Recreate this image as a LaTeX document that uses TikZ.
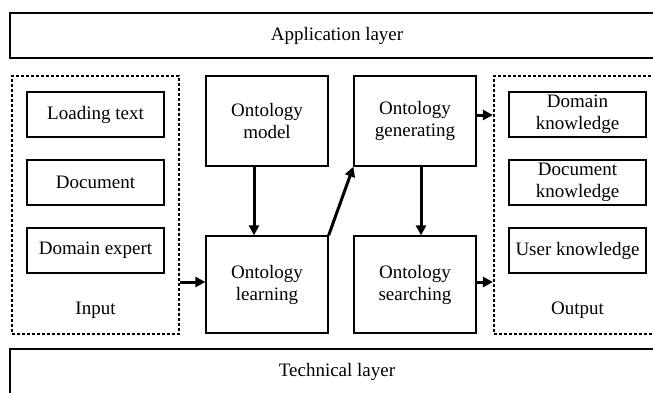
\documentclass[tikz,border=0pt]{standalone}
\usepackage{fontspec}
\setmainfont{Liberation Serif}
\usetikzlibrary{arrows.meta}
\tikzset{
  txt/.style={font=\fontsize{19}{22}\selectfont, align=center, inner sep=0pt},
  sbox/.style={txt, draw, line width=1.3pt, minimum width=#1},
  sbox/.default=137pt,
  dbox/.style={draw, line width=2.2pt, dash pattern=on 3pt off 2pt, minimum width=167pt, minimum height=258pt, inner sep=0pt},
  arr/.style={line width=3pt, -{Triangle[length=10pt,width=10pt]}},
}
\begin{document}
\begin{tikzpicture}[x=1pt,y=1pt]
\useasboundingbox (0,0) rectangle (653,-392);
\clip (0,0) rectangle (653,-392);
% layers
\node[sbox=654pt, minimum height=45pt] (app) at (337,-35.5) {Application layer};
\node[sbox=654pt, minimum height=46pt] (tech) at (337,-372) {Technical layer};
% input / output groups
\node[dbox] (input) at (95.5,-205) {};
\node[dbox] (output) at (577.5,-205) {};
\node[sbox, minimum height=45pt] (lt) at (95.5,-114.5) {Loading text};
\node[sbox, minimum height=45pt] (doc) at (95.5,-182.5) {Document};
\node[sbox, minimum height=45pt] (de) at (95.5,-250.5) {Domain expert};
\node[txt] (inl) at (95.5,-310) {Input};
\node[sbox, minimum height=45pt] (dk) at (577.5,-114.5) {Domain\\knowledge};
\node[sbox, minimum height=45pt] (dck) at (577.5,-182.5) {Document\\knowledge};
\node[sbox, minimum height=45pt] (uk) at (577.5,-250.5) {User knowledge};
\node[txt] (outl) at (577.5,-310) {Output};
% ontology boxes
\node[sbox=122pt, minimum height=90pt] (model) at (267,-121) {Ontology\\model};
\node[sbox=122pt, minimum height=97pt] (learn) at (267,-284.5) {Ontology\\learning};
\node[sbox=122pt, minimum height=90pt] (gen) at (415,-121) {Ontology\\generating};
\node[sbox=122pt, minimum height=97pt] (search) at (415,-284.5) {Ontology\\searching};
% connectors
\path (learn.west) ++(0,2.5) coordinate (a1);
\draw[arr] (input.east |- a1) -- (a1);
\draw[arr] ([xshift=-13pt]model.south) -- ([xshift=-13pt]learn.north);
\draw[arr] (learn.north east) -- (gen.south west);
\draw[arr] ([xshift=6pt]gen.south) -- ([xshift=6pt]search.north);
\path (gen.east) ++(0,6) coordinate (a2);
\draw[arr] (a2) -- (output.west |- a2);
\path (search.east) ++(0,2.5) coordinate (a3);
\draw[arr] (a3) -- (output.west |- a3);
\end{tikzpicture}
\end{document}
